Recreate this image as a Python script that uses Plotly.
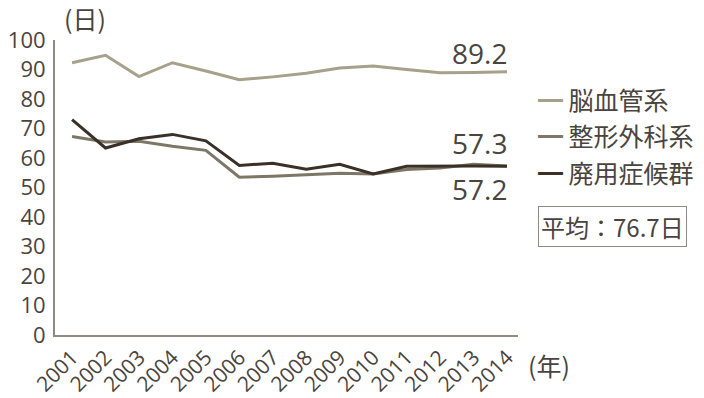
import plotly.graph_objects as go

years = list(range(2001, 2015))
series_names = ["脳血管系", "整形外科系", "廃用症候群"]
cerebro = [92.3, 94.8, 87.6, 92.3, 89.5, 86.5, 87.5, 88.7, 90.5, 91.2, 90.0, 88.9, 89.0, 89.2]
ortho = [67.3, 65.4, 65.7, 64.0, 62.6, 53.5, 53.8, 54.2, 54.8, 54.6, 56.1, 56.6, 57.9, 57.3]
disuse = [73.0, 63.4, 66.5, 68.0, 65.8, 57.5, 58.2, 56.2, 57.9, 54.6, 57.2, 57.3, 57.3, 57.2]
series_values = [cerebro, ortho, disuse]
end_labels = ["89.2", "57.3", "57.2"]
average_label = "平均：76.7日"
y_ticks = [0, 10, 20, 30, 40, 50, 60, 70, 80, 90, 100]

colors = ["#a7a08a", "#7d7766", "#3b3028"]
text_color = "#4a443e"
num_font = "Liberation Sans Narrow, Open Sans, sans-serif"
cjk_font = "Noto Sans CJK JP, sans-serif"

fig = go.Figure()
for name, vals, c in zip(series_names, series_values, colors):
    fig.add_trace(go.Scatter(x=years, y=vals, mode="lines", name=name,
                             line=dict(color=c, width=3), showlegend=False))

# end value labels
lbl_font = dict(family="Open Sans, sans-serif", size=28, color=text_color)
fig.add_annotation(x=years[-1], y=cerebro[-1], text=end_labels[0], showarrow=False,
                   xanchor="right", yanchor="bottom", yshift=-2, xshift=2, font=lbl_font)
fig.add_annotation(x=years[-1], y=ortho[-1], text=end_labels[1], showarrow=False,
                   xanchor="right", yanchor="bottom", yshift=2, xshift=2, font=lbl_font)
fig.add_annotation(x=years[-1], y=disuse[-1], text=end_labels[2], showarrow=False,
                   xanchor="right", yanchor="top", yshift=-2, xshift=2, font=lbl_font)

# legend via annotations
legend_y = [99, 135, 172]
for name, c, ly in zip(series_names, colors, legend_y):
    fig.add_annotation(xref="paper", yref="paper", x=(536 - 55) / (518 - 55),
                       y=(398 - 63 - ly) / (335 - 40), xanchor="left", yanchor="middle",
                       text=f"<span style='color:{c}'>━</span> {name}", showarrow=False,
                       font=dict(family=cjk_font, size=25, color=text_color))

fig.add_annotation(xref="paper", yref="paper", x=(538 - 55) / (518 - 55),
                   y=(398 - 63 - 226) / (335 - 40), xanchor="left", yanchor="middle",
                   text=average_label, showarrow=False, bordercolor="#8f8a84", borderwidth=1,
                   borderpad=2, font=dict(family=cjk_font, size=24, color=text_color))

# axis unit labels
fig.add_annotation(xref="paper", yref="paper", x=(62 - 55) / (518 - 55),
                   y=(398 - 63 - 18) / (335 - 40), xanchor="left", yanchor="middle",
                   text="(日)", showarrow=False,
                   font=dict(family=cjk_font, size=25, color=text_color))
fig.add_annotation(xref="paper", yref="paper", x=(526 - 55) / (518 - 55),
                   y=(398 - 63 - 365) / (335 - 40), xanchor="left", yanchor="middle",
                   text="(年)", showarrow=False,
                   font=dict(family=cjk_font, size=25, color=text_color))

fig.update_layout(
    width=704, height=398,
    margin=dict(l=55, r=186, t=40, b=63),
    paper_bgcolor="white", plot_bgcolor="white",
    xaxis=dict(range=[2000.49, 2014.33], tickmode="array", tickvals=years,
               ticktext=[str(y) for y in years], tickangle=-45, automargin=False,
               ticklabelstandoff=0,
               showgrid=False, zeroline=False, showline=True, linecolor="#8f8a84",
               linewidth=2, ticks="", tickfont=dict(family=num_font, size=21, color=text_color)),
    yaxis=dict(range=[0, 100], tickmode="array", tickvals=y_ticks, automargin=False,
               showgrid=False, zeroline=False, showline=True, linecolor="#8f8a84",
               linewidth=2, ticks="", ticklabelstandoff=3,
               tickfont=dict(family=num_font, size=22, color=text_color)),
)

fig.write_html("out.html")
